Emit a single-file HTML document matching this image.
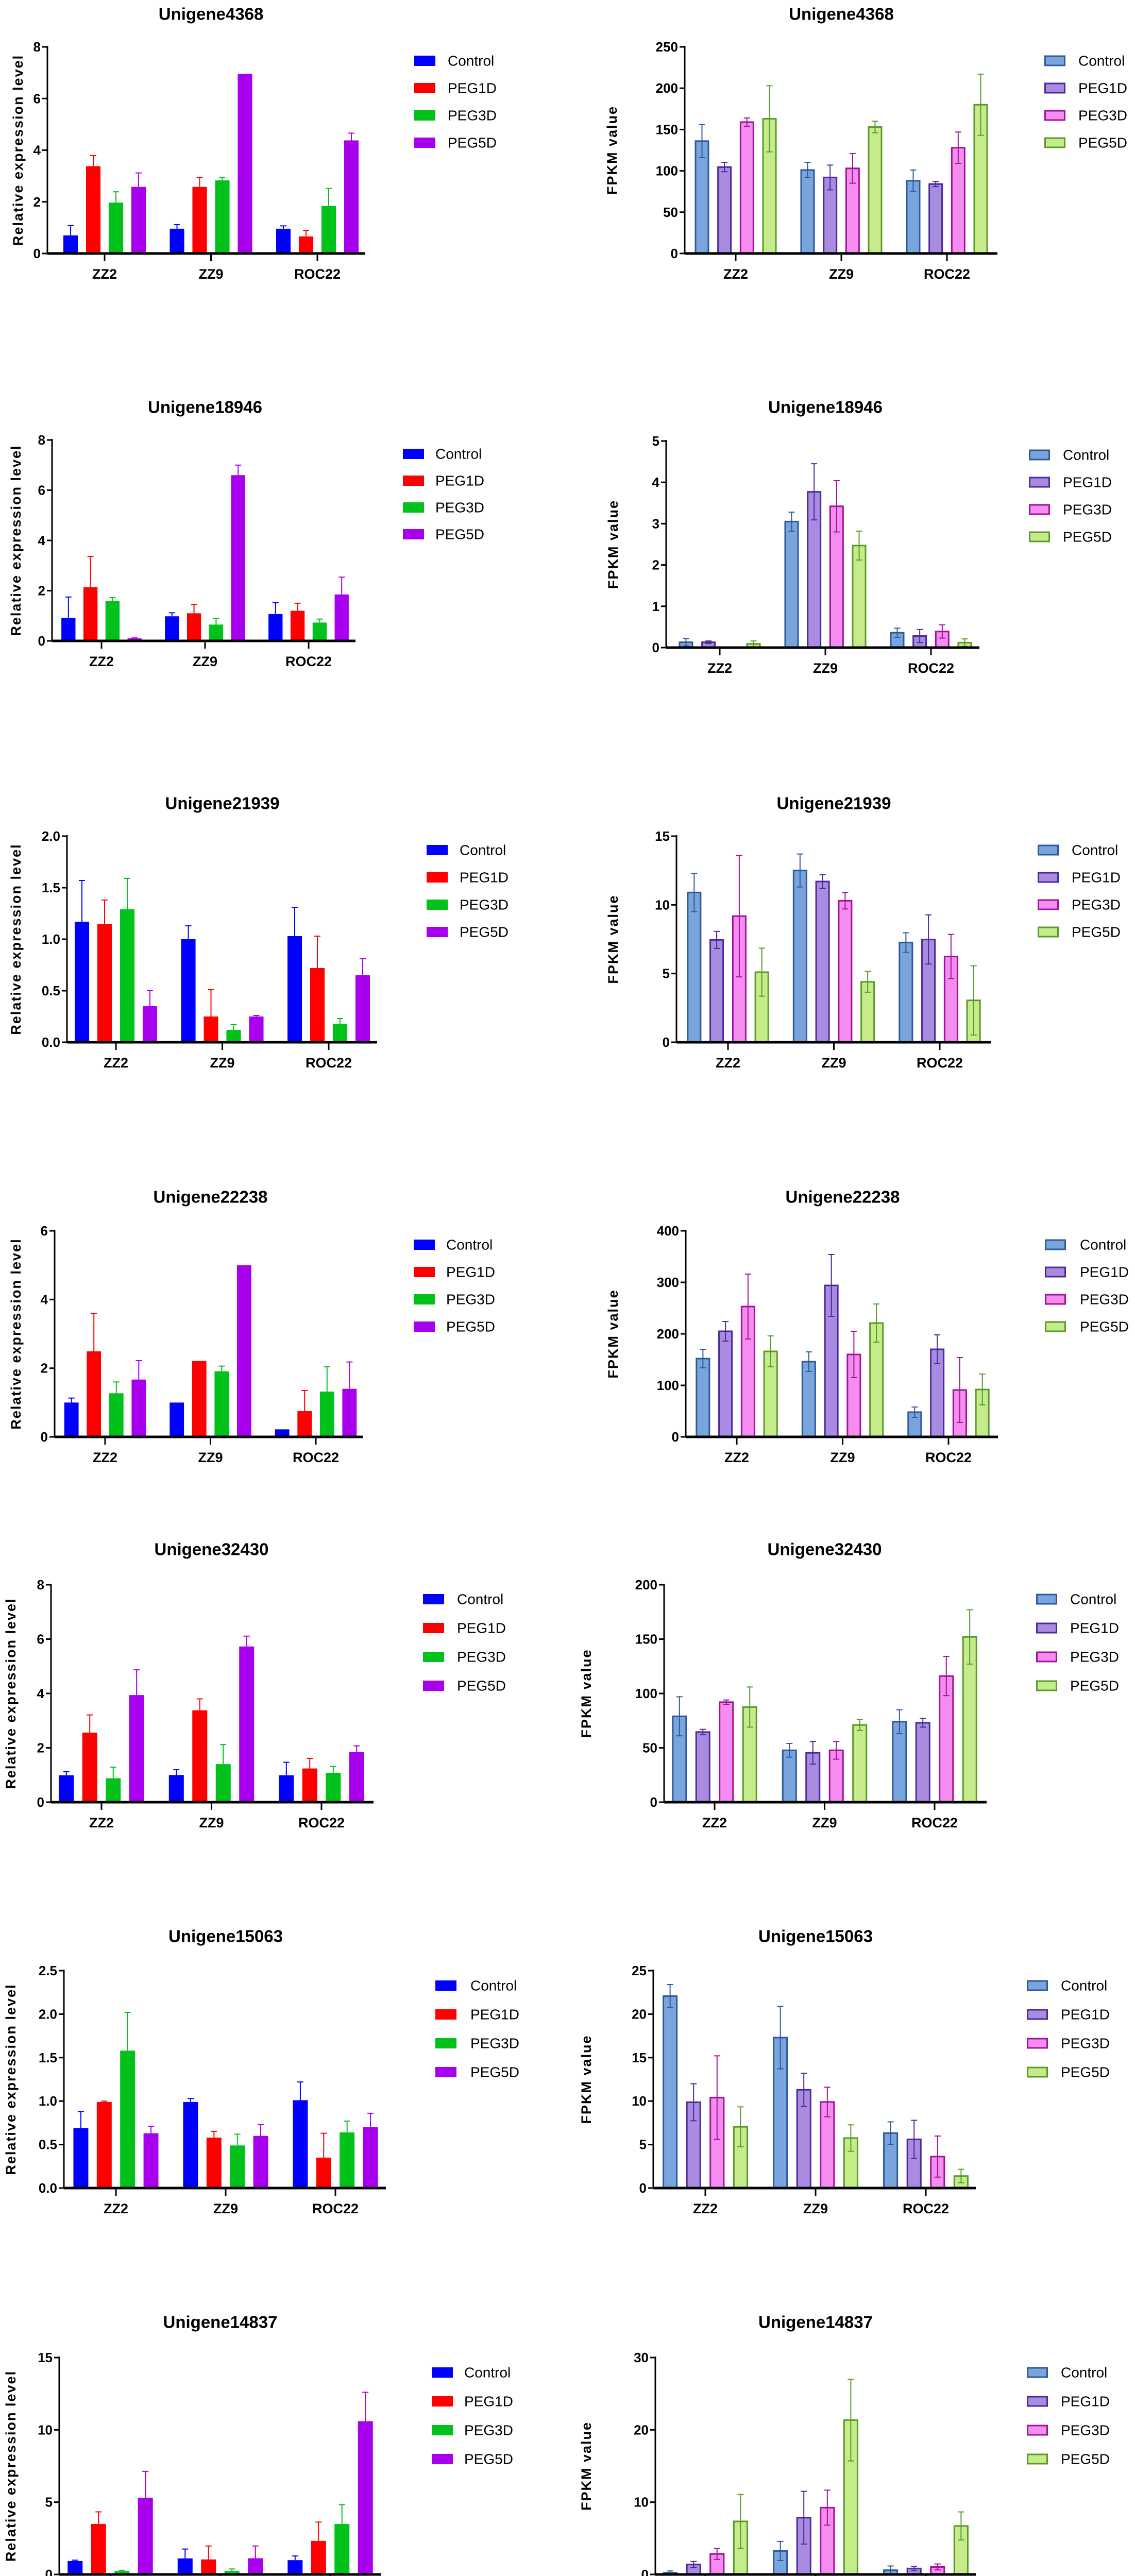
<!DOCTYPE html>
<html><head><meta charset="utf-8">
<style>
html,body{margin:0;padding:0;background:#fff;width:2203px;height:5057px;overflow:hidden;}
svg{display:block;font-family:"Liberation Sans",sans-serif;}
</style></head>
<body>
<svg id="fig" xmlns="http://www.w3.org/2000/svg" width="2203" height="5057" viewBox="0 0 2203 5057"></svg>
<script>
const categories = ["ZZ2","ZZ9","ROC22"];
const seriesNames = ["Control","PEG1D","PEG3D","PEG5D"];
const genes = ["Unigene4368","Unigene18946","Unigene21939","Unigene22238","Unigene32430","Unigene15063","Unigene14837"];

// values: rows = series (Control, PEG1D, PEG3D, PEG5D), cols = categories
const rel4368 = [[0.7,0.96,0.96],[3.38,2.58,0.66],[1.97,2.83,1.84],[2.58,6.96,4.38]];
const relErr4368 = [[0.38,0.16,0.11],[0.41,0.36,0.23],[0.42,0.12,0.68],[0.54,0,0.28]];
const fpkm4368 = [[136,101,88],[104.5,92,84],[159,103,128],[163,153,180]];
const fpkmErr4368 = [[20,9,13],[5.5,15,3],[5,18,19],[40,7,37]];

const rel18946 = [[0.92,0.98,1.07],[2.14,1.1,1.2],[1.6,0.65,0.73],[0.1,6.6,1.85]];
const relErr18946 = [[0.83,0.14,0.45],[1.22,0.35,0.3],[0.12,0.25,0.14],[0.02,0.4,0.69]];
const fpkm18946 = [[0.13,3.05,0.36],[0.13,3.77,0.28],[0.01,3.42,0.39],[0.09,2.47,0.12]];
const fpkmErr18946 = [[0.09,0.23,0.11],[0.03,0.68,0.16],[0,0.62,0.16],[0.07,0.35,0.09]];

const rel21939 = [[1.17,1.0,1.03],[1.15,0.25,0.72],[1.29,0.12,0.18],[0.35,0.25,0.65]];
const relErr21939 = [[0.4,0.13,0.28],[0.23,0.26,0.31],[0.3,0.05,0.05],[0.15,0.01,0.16]];
const fpkm21939 = [[10.9,12.5,7.26],[7.45,11.7,7.48],[9.18,10.3,6.24],[5.1,4.4,3.05]];
const fpkmErr21939 = [[1.4,1.2,0.71],[0.62,0.5,1.79],[4.42,0.6,1.61],[1.75,0.76,2.52]];

const rel22238 = [[1.0,1.0,0.22],[2.49,2.21,0.75],[1.27,1.91,1.32],[1.67,5.0,1.4]];
const relErr22238 = [[0.13,0,0],[1.11,0,0.6],[0.33,0.15,0.72],[0.55,0,0.78]];
const fpkm22238 = [[152,146,48],[205,294,170],[253,160,91],[166,221,92]];
const fpkmErr22238 = [[18,19,10],[19,60,28],[63,45,63],[30,37,30]];

const rel32430 = [[0.99,1.0,0.99],[2.56,3.38,1.24],[0.88,1.4,1.08],[3.94,5.73,1.84]];
const relErr32430 = [[0.13,0.2,0.48],[0.65,0.42,0.37],[0.41,0.72,0.23],[0.93,0.38,0.23]];
const fpkm32430 = [[79,47.7,74],[64.5,45.4,73],[92,47.7,116],[87.5,71,152]];
const fpkmErr32430 = [[18,6.3,11],[2.5,10.4,4],[2,8.1,18],[18.5,5,25]];

const rel15063 = [[0.69,0.99,1.01],[0.99,0.58,0.35],[1.58,0.49,0.64],[0.63,0.6,0.7]];
const relErr15063 = [[0.19,0.04,0.21],[0.01,0.07,0.28],[0.44,0.13,0.13],[0.08,0.13,0.16]];
const fpkm15063 = [[22.07,17.3,6.32],[9.87,11.3,5.6],[10.4,9.9,3.62],[7.04,5.75,1.38]];
const fpkmErr15063 = [[1.33,3.6,1.29],[2.13,1.9,2.19],[4.8,1.7,2.36],[2.3,1.52,0.78]];

const rel14837 = [[0.93,1.11,0.99],[3.49,1.04,2.32],[0.24,0.24,3.49],[5.31,1.12,10.6]];
const relErr14837 = [[0.06,0.65,0.29],[0.84,0.93,1.3],[0.05,0.14,1.34],[1.82,0.85,2.0]];
const fpkm14837 = [[0.24,3.25,0.59],[1.38,7.85,0.83],[2.84,9.24,1.04],[7.34,21.35,6.71]];
const fpkmErr14837 = [[0.24,1.32,0.59],[0.42,3.65,0.27],[0.76,2.42,0.41],[3.73,5.65,1.94]];

const relMax = [8,8,2,6,8,2.5,15];
const relStep = [2,2,0.5,2,2,0.5,5];
const fpkmMax = [250,5,15,400,200,25,30];
const fpkmStep = [50,1,5,100,50,5,10];

const relData = [rel4368,rel18946,rel21939,rel22238,rel32430,rel15063,rel14837];
const relErrs = [relErr4368,relErr18946,relErr21939,relErr22238,relErr32430,relErr15063,relErr14837];
const fpkmData = [fpkm4368,fpkm18946,fpkm21939,fpkm22238,fpkm32430,fpkm15063,fpkm14837];
const fpkmErrs = [fpkmErr4368,fpkmErr18946,fpkmErr21939,fpkmErr22238,fpkmErr32430,fpkmErr15063,fpkmErr14837];

// layout (pixels) per row: [axisX, xEnd, top, zero, firstTick, pitch, titleY, legX, legTX, legY, legGap, ytX]
const leftLayout = [
 [92,709,91,492,203,206.5,27,804,869,118,53,35],
 [101,690,854,1244,197,201,790,782,845,881,52,31],
 [130,732,1623,2023,225,206.5,1559,828,892,1650,53,31],
 [106,704,2389,2789,204,204.5,2323,803,866,2416,53,31],
 [99,725,3076,3498,197,213.5,3007,821,887,3104,56,21],
 [124,749,3825,4247,225,213,3758,845,913,3854,56,21],
 [115,739,4576,4997,214,213.5,4507,838,901,4605,56,21]];
const rightLayout = [
 [1329,1936,91,492,1428,205,27,2027,2093,118,53,1188],
 [1293,1901,856,1257,1397,205,790,1997,2063,883,53,1190],
 [1313,1923,1623,2023,1413,205.5,1559,2014,2080,1650,53,1190],
 [1331,1937,2389,2789,1430,205.5,2323,2028,2096,2416,53,1190],
 [1289,1915,3076,3498,1387,213.5,3007,2011,2077,3104,56,1138],
 [1268,1894,3825,4247,1369,214,3758,1993,2059,3854,56,1138],
 [1272,1894,4576,4997,1369,214,4507,1993,2059,4605,56,1138]];

const relFill = ["#0000ff","#ff0000","#00c21a","#a800ee"];
const fpkmFill = ["#79a5dc","#a98be0","#f58cf0","#c6eb8a"];
const fpkmStroke = ["#2c5a9c","#4b2a9a","#a0129a","#5a9a2a"];

const NS = "http://www.w3.org/2000/svg";
const svg = document.getElementById("fig");
function mk(tag, attrs, parent){
  const e = document.createElementNS(NS, tag);
  for (const k in attrs) e.setAttribute(k, attrs[k]);
  (parent||svg).appendChild(e);
  return e;
}

function panel(idx, kind){
  const L = kind==="rel" ? leftLayout[idx] : rightLayout[idx];
  const [ax,xEnd,top,zero,t0,pitch,tY,legX,legTX,legY,legGap,ytX] = L;
  const vals = kind==="rel" ? relData[idx] : fpkmData[idx];
  const errs = kind==="rel" ? relErrs[idx] : fpkmErrs[idx];
  const ymax = kind==="rel" ? relMax[idx] : fpkmMax[idx];
  const step = kind==="rel" ? relStep[idx] : fpkmStep[idx];
  const dec = (step%1!==0) ? 1 : 0;
  const y = v => zero - (v/ymax)*(zero-top);
  const cx = c => t0 + c*pitch;
  const bp = pitch*0.213, bw = kind==="rel" ? pitch*0.136 : pitch*0.122;
  const g = mk("g",{});
  
  

  const title = mk("text",{x:cx(1),y:tY,"text-anchor":"middle","dominant-baseline":"central","font-size":33,"font-weight":"bold",fill:"#000"},g);
  title.textContent = genes[idx];
  
  

  const yt = mk("text",{x:ytX,y:(top+zero)/2,"text-anchor":"middle","dominant-baseline":"central","font-size":27,"font-weight":"bold","letter-spacing":"2",transform:`rotate(-90 ${ytX} ${(top+zero)/2})`},g);
  yt.textContent = kind==="rel" ? "Relative expression level" : "FPKM value";
  
  

  for (let s=0;s<4;s++){
    for (let c=0;c<3;c++){
      const v = vals[s][c], e = errs[s][c];
      const bx = cx(c) + (s-1.5)*bp;
      const yv = y(v);
      const bar = kind==="rel"
        ? mk("rect",{x:bx-bw/2,y:yv,width:bw,height:Math.max(0,zero-yv),fill:relFill[s]},g)
        : mk("rect",{x:bx-bw/2,y:yv,width:bw,height:Math.max(0,zero-yv),fill:fpkmFill[s],stroke:fpkmStroke[s],"stroke-width":3},g);
      
      
      if (e>0){
        const col = kind==="rel" ? relFill[s] : fpkmStroke[s];
        const lo = kind==="rel" ? v : Math.max(0,v-e);
        const eb = mk("path",{d:`M${bx} ${y(lo)}V${y(v+e)}M${bx-6} ${y(v+e)}H${bx+6}`+(kind==="rel"?"":`M${bx-6} ${y(lo)}H${bx+6}`),stroke:col,"stroke-width":2,fill:"none"},g);
        
        
      }
    }
  }
  const yaxis = mk("line",{x1:ax,y1:top-2,x2:ax,y2:zero,stroke:"#000","stroke-width":3},g);
  
  
  for (let v=0; v<=ymax+1e-9; v+=step){
    const tk = mk("line",{x1:ax-10,y1:y(v),x2:ax,y2:y(v),stroke:"#000","stroke-width":3},g);
    
    
    const tl = mk("text",{x:ax-13,y:y(v),"text-anchor":"end","dominant-baseline":"central","font-size":26,"font-weight":"bold"},g);
    tl.textContent = v.toFixed(dec);
    
    
  }
  const xaxis = mk("line",{x1:ax,y1:zero,x2:xEnd,y2:zero,stroke:"#000","stroke-width":5},g);
  
  
  for (let c=0;c<3;c++){
    const tk = mk("line",{x1:cx(c),y1:zero,x2:cx(c),y2:zero+15,stroke:"#000","stroke-width":3},g);
    
    
    const tl = mk("text",{x:cx(c),y:zero+40,"text-anchor":"middle","dominant-baseline":"central","font-size":27,"font-weight":"bold"},g);
    tl.textContent = categories[c];
    
    
  }
  for (let s=0;s<4;s++){
    const ly = legY + s*legGap;
    const sw = kind==="rel"
      ? mk("rect",{x:legX,y:ly-10,width:41,height:20,fill:relFill[s]},g)
      : mk("rect",{x:legX+1.5,y:ly-9,width:38,height:18,fill:fpkmFill[s],stroke:fpkmStroke[s],"stroke-width":3},g);
    
    
    const lt = mk("text",{x:legTX,y:ly,"dominant-baseline":"central","font-size":28},g);
    lt.textContent = seriesNames[s];
    
    
  }
}
for (let i=0;i<7;i++){ panel(i,"rel"); panel(i,"fpkm"); }
</script>
</body></html>
